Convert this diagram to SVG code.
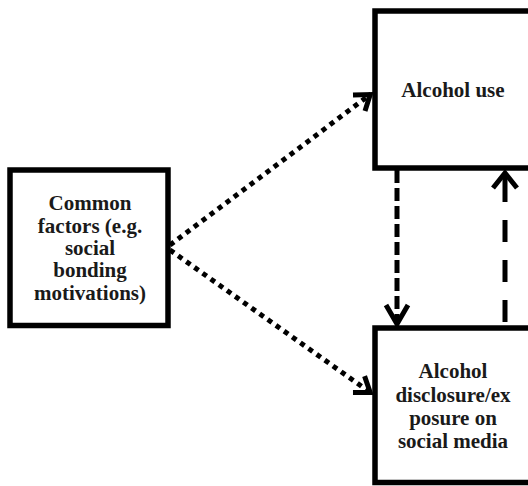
<svg xmlns="http://www.w3.org/2000/svg" width="528" height="486" viewBox="0 0 528 486">
  <style>
    .box { fill: #ffffff; stroke: #000000; stroke-width: 5.5; }
    .lbl { font-family: "Liberation Serif", "Times New Roman", serif; font-weight: bold; font-size: 21px; fill: #1a1a1a; text-anchor: middle; }
    .dot { fill: none; stroke: #000000; stroke-width: 5; stroke-dasharray: 5 5; }
    .dash { fill: none; stroke: #000000; stroke-width: 5; }
    .head { fill: none; stroke: #000000; stroke-width: 5; stroke-linejoin: miter; stroke-linecap: butt; }
  </style>
  <defs>
    <marker id="vhead" markerUnits="userSpaceOnUse" markerWidth="30" markerHeight="30" refX="0" refY="0" viewBox="-20 -15 25 30" orient="auto" overflow="visible">
      <path d="M-15,-10 L-1,0 L-15,10" fill="none" stroke="#000000" stroke-width="5"/>
    </marker>
  </defs>
  <rect width="528" height="486" fill="#ffffff"/>

  <g id="connectors">
    <line class="dot" x1="170" y1="245" x2="371" y2="94" marker-end="url(#vhead)"/>
    <line class="dot" x1="170" y1="250" x2="371" y2="393" marker-end="url(#vhead)"/>
    <line class="dash" x1="397" y1="170" x2="397" y2="322" stroke-dasharray="13 5"/>
    <path class="head" d="M386,305 L397,324 L408,305"/>
    <line class="dash" x1="505" y1="322" x2="505" y2="220" stroke-dasharray="22 18"/>
    <line class="dash" x1="505" y1="202" x2="505" y2="174"/>
    <path class="head" d="M493,188 L505,173 L517,188"/>
  </g>

  <g id="node-common">
    <rect class="box" x="10" y="170" width="158" height="155.5"/>
    <text class="lbl" x="90" y="210">Common</text>
    <text class="lbl" x="90" y="232.5">factors (e.g.</text>
    <text class="lbl" x="90" y="255">social</text>
    <text class="lbl" x="90" y="277">bonding</text>
    <text class="lbl" x="90" y="299.5">motivations)</text>
  </g>

  <g id="node-alcohol-use">
    <rect class="box" x="375" y="11" width="170" height="157"/>
    <text class="lbl" x="453" y="97">Alcohol use</text>
  </g>

  <g id="node-disclosure">
    <rect class="box" x="375" y="328" width="170" height="154.5"/>
    <text class="lbl" x="453" y="378">Alcohol</text>
    <text class="lbl" x="453" y="402">disclosure/ex</text>
    <text class="lbl" x="453" y="425">posure on</text>
    <text class="lbl" x="453" y="448">social media</text>
  </g>
</svg>
